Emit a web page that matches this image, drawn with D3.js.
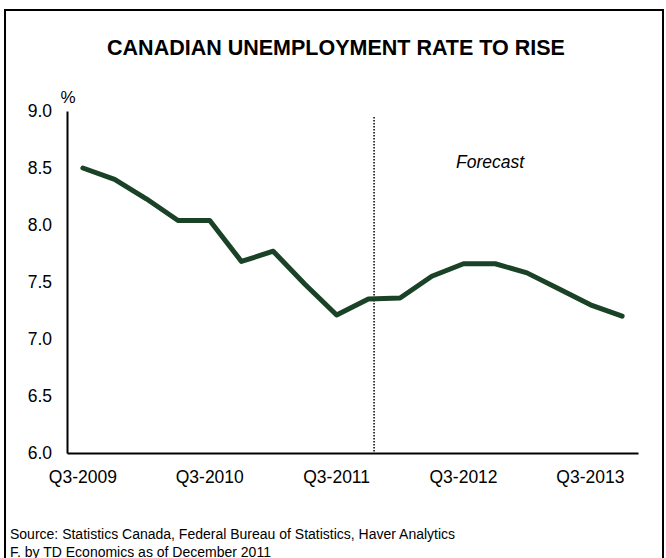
<!DOCTYPE html>
<html>
<head>
<meta charset="utf-8">
<script src="https://cdn.jsdelivr.net/npm/d3@7"></script>
<style>
    body { margin: 0; background: #fff; }
    svg { display: block; font-family: "Liberation Sans", Arial, sans-serif; }
</style>
</head>
<body>
<svg id="chart" width="666" height="558"></svg>
<script>
// quarters shown on the chart
var quarters = ["Q3-2009", "Q4-2009", "Q1-2010", "Q2-2010", "Q3-2010", "Q4-2010",
    "Q1-2011", "Q2-2011", "Q3-2011", "Q4-2011", "Q1-2012", "Q2-2012",
    "Q3-2012", "Q4-2012", "Q1-2013", "Q2-2013", "Q3-2013", "Q4-2013"];

// unemployment rate, %
var rate = [8.5, 8.4, 8.23, 8.04, 8.04, 7.68, 7.77, 7.48, 7.21, 7.35,
    7.36, 7.55, 7.66, 7.66, 7.58, 7.44, 7.30, 7.20];

var xTickLabels = ["Q3-2009", "Q3-2010", "Q3-2011", "Q3-2012", "Q3-2013"];
var yTicks = [6.0, 6.5, 7.0, 7.5, 8.0, 8.5, 9.0];

// forecast starts after this quarter
var forecastAfter = "Q4-2011";

var svg = d3.select("#chart");

var plotLeft = 67,
    plotRight = 638,
    plotTop = 111,
    plotBottom = 453;

// outer frame
svg.append("rect")
    .attr("x", 5)
    .attr("y", 10)
    .attr("width", 658)
    .attr("height", 600)
    .attr("fill", "none")
    .attr("stroke", "#000")
    .attr("stroke-width", 2);

// title
svg.append("text")
    .attr("x", 336)
    .attr("y", 55)
    .attr("text-anchor", "middle")
    .attr("font-weight", "bold")
    .attr("font-size", "21.5px")
    .text("CANADIAN UNEMPLOYMENT RATE TO RISE");

var x = d3.scaleBand()
    .domain(quarters)
    .range([plotLeft, plotRight]);

var y = d3.scaleLinear()
    .domain([6, 9])
    .range([plotBottom, plotTop]);

// y axis
var yAxis = svg.append("g")
    .attr("transform", "translate(" + plotLeft + ",0)")
    .call(d3.axisLeft(y)
        .tickValues(yTicks)
        .tickSize(0)
        .tickPadding(15)
        .tickFormat(d3.format(".1f")));
yAxis.select(".domain")
    .attr("stroke", "#000")
    .attr("stroke-width", 2);
yAxis.selectAll("text")
    .attr("font-size", "17.5px")
    .attr("font-family", "Liberation Sans, Arial, sans-serif")
    .attr("fill", "#000");

// x axis
var xAxis = svg.append("g")
    .attr("transform", "translate(0," + plotBottom + ")")
    .call(d3.axisBottom(x)
        .tickValues(xTickLabels)
        .tickSize(0)
        .tickPadding(18));
xAxis.select(".domain")
    .attr("stroke", "#000")
    .attr("stroke-width", 2);
xAxis.selectAll("text")
    .attr("font-size", "17.5px")
    .attr("font-family", "Liberation Sans, Arial, sans-serif")
    .attr("fill", "#000");

// % unit
svg.append("text")
    .attr("x", plotLeft + 1)
    .attr("y", 103)
    .attr("text-anchor", "middle")
    .attr("font-size", "17px")
    .text("%");

// forecast divider
var fx = x(forecastAfter) + x.bandwidth() * 0.68;
svg.append("line")
    .attr("x1", fx)
    .attr("x2", fx)
    .attr("y1", 117)
    .attr("y2", plotBottom)
    .attr("stroke", "#000")
    .attr("stroke-width", 1.5)
    .attr("stroke-dasharray", "1.5 1.5");

svg.append("text")
    .attr("x", 490)
    .attr("y", 168)
    .attr("text-anchor", "middle")
    .attr("font-style", "italic")
    .attr("font-size", "17.5px")
    .text("Forecast");

// the rate line
var line = d3.line()
    .x(function (d, i) {
        return x(quarters[i]) + x.bandwidth() / 2;
    })
    .y(function (d) {
        return y(d);
    });

svg.append("path")
    .datum(rate)
    .attr("d", line)
    .attr("fill", "none")
    .attr("stroke", "#1a4226")
    .attr("stroke-width", 5)
    .attr("stroke-linejoin", "round")
    .attr("stroke-linecap", "round");

// source notes
svg.append("text")
    .attr("x", 10)
    .attr("y", 539)
    .attr("font-size", "14px")
    .text("Source: Statistics Canada, Federal Bureau of Statistics, Haver Analytics");
svg.append("text")
    .attr("x", 10)
    .attr("y", 557)
    .attr("font-size", "14px")
    .text("F. by TD Economics as of December 2011");
</script>
</body>
</html>
